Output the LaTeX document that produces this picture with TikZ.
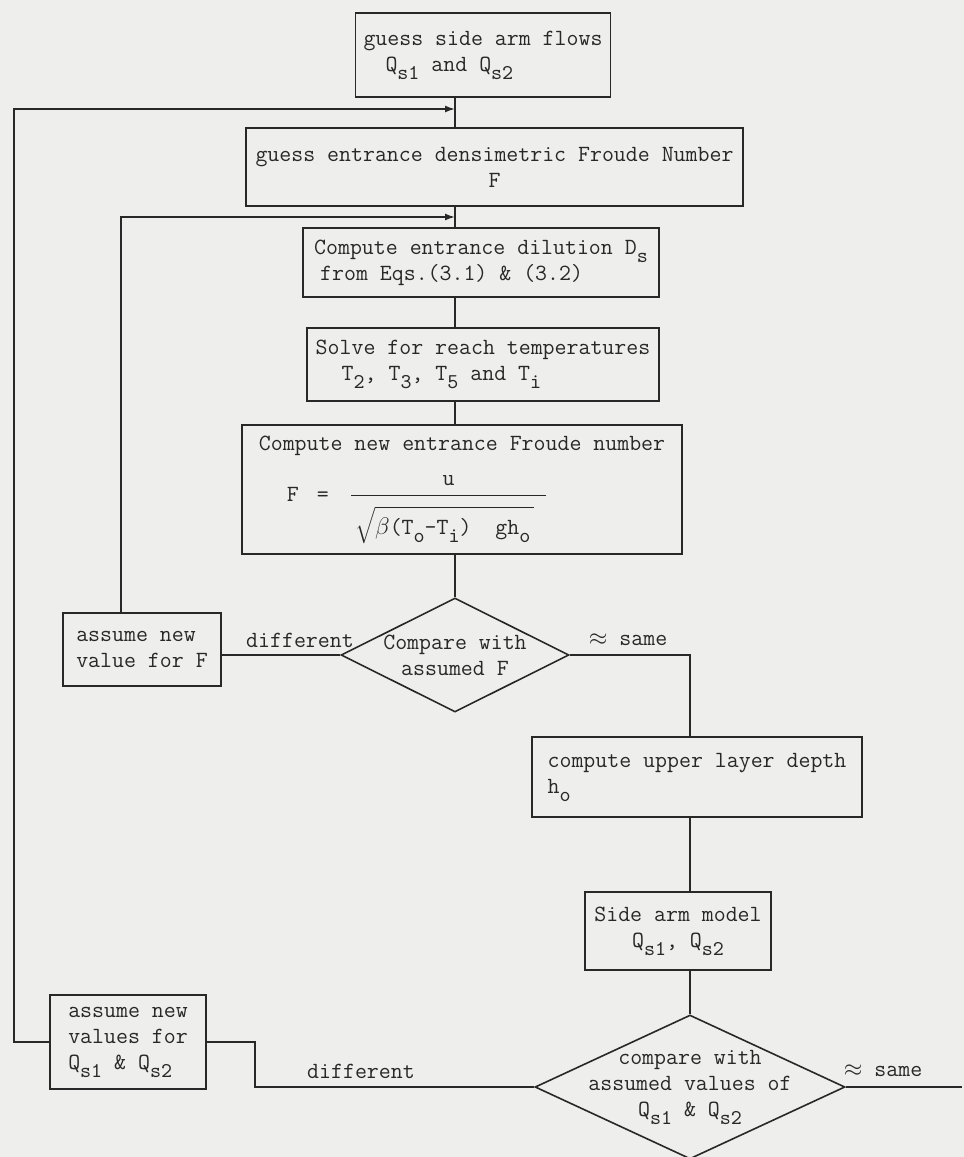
\documentclass[tikz,border=0pt]{standalone}
\usepackage{fontspec}
\usetikzlibrary{shapes.geometric,arrows.meta}
\definecolor{paper}{RGB}{238,238,236}
\definecolor{ink}{RGB}{40,40,40}
\newcommand\dn[1]{\raisebox{-0.8ex}{\fontsize{10.5}{10.5}\selectfont #1}}
\begin{document}
\begin{tikzpicture}[x=0.5pt,y=-0.5pt,
  every node/.style={font=\fontsize{11.6}{13}\selectfont\ttfamily, text=ink},
  box/.style={draw=ink, line width=0.8pt, rectangle, inner xsep=4pt, inner ysep=0pt, align=left},
  dec/.style={draw=ink, diamond, line width=0.8pt, inner sep=0pt, shape aspect=2},
  ln/.style={draw=ink, line width=0.8pt},
  arr/.style={ln, -{Latex[length=5pt,width=3.5pt]}},
  lbl/.style={inner sep=0pt}]
\fill[paper] (0,0) rectangle (964,1157);
\useasboundingbox (0,0) rectangle (964,1157);

\coordinate (M) at (455,0);
\coordinate (J1) at (455,109);
\coordinate (J2) at (455,217);
\coordinate (L1) at (14,109);
\coordinate (X2) at (121,0);
\coordinate (C2) at (690,0);
\coordinate (K) at (255,0);
\coordinate (E) at (962,1087);

\node[box, minimum width=127pt, minimum height=42pt] (b1) at (483,55)
  {guess side arm flows\\\hspace*{11pt}Q\dn{s1} and Q\dn{s2}};
\node[box, align=center, minimum width=248.5pt, minimum height=39pt] (b2) at (494.5,167)
  {guess entrance densimetric Froude Number\\F};
\node[box, minimum width=178pt, minimum height=34.5pt] (b3) at (481,262.5)
  {Compute entrance dilution D\dn{s}\\\hspace*{3pt}from Eqs.(3.1) \& (3.2)};
\node[box, minimum width=176pt, minimum height=36.5pt] (b4) at (483,364.5)
  {Solve for reach temperatures\\\hspace*{13pt}T\dn{2}, T\dn{3}, T\dn{5} and T\dn{i}};
\node[box, minimum width=220pt, minimum height=64.5pt] (b5) at (462,489.5)
  {Compute new entrance Froude number\\[9pt]
   \hspace*{14pt}F\hspace*{9pt}=\hspace*{10pt}$\displaystyle\frac{\hbox{\ttfamily u}}{\vbox{\kern4pt\hbox{$\,\sqrt{\rule{0pt}{12pt}\hbox{\ttfamily $\beta$(T\dn{o}-T\dn{i})\ \ gh\dn{o}\,}}\hspace*{6pt}$}}}$};
\node[dec, minimum width=114pt, minimum height=57pt,
  label={[align=center, inner sep=0pt]center:Compare with\\assumed F}] (d1) at (455,655) {};
\node[box, minimum width=79pt, minimum height=36.5pt] (a1) at (142,649.5)
  {assume new\\value for F};
\node[box, minimum width=165pt, minimum height=40pt] (b6) at (697,777)
  {compute upper layer depth\\h\dn{o}};
\node[box, align=center, minimum width=93pt, minimum height=39pt] (b7) at (678,931)
  {Side arm model\\Q\dn{s1}, Q\dn{s2}};
\node[dec, minimum width=155pt, minimum height=72pt,
  label={[align=center, inner sep=0pt]center:compare with\\assumed values of\\Q\dn{s1} \& Q\dn{s2}}] (d2) at (690,1087) {};
\node[box, minimum width=78pt, minimum height=47pt] (a2) at (128,1042)
  {assume new\\values for\\Q\dn{s1} \& Q\dn{s2}};

\node[lbl] (t1) at (300,640) {different};
\node[lbl] (t2) at (628,640) {$\approx$ same};
\node[lbl] (t3) at (361,1071) {different};
\node[lbl] (t4) at (883,1071) {$\approx$ same};

\draw[ln] (M |- b1.south) -- (M |- b2.north);
\draw[ln] (M |- b2.south) -- (M |- b3.north);
\draw[ln] (M |- b3.south) -- (M |- b4.north);
\draw[ln] (M |- b4.south) -- (M |- b5.north);
\draw[ln] (M |- b5.south) -- (d1.north);
\draw[ln] (d1.west) -- (d1.west -| a1.east);
\draw[arr] (X2 |- a1.north) -- (X2 |- J2) -- (J2);
\draw[ln] (d1.east) -| (C2 |- b6.north);
\draw[ln] (C2 |- b6.south) -- (C2 |- b7.north);
\draw[ln] (C2 |- b7.south) -- (d2.north);
\draw[ln] (d2.west) -| (K |- a2.east) -- (a2.east);
\draw[arr] (a2.west) -- (L1 |- a2.west) -- (L1) -- (J1);
\draw[ln] (d2.east) -- (E);
\end{tikzpicture}
\end{document}
